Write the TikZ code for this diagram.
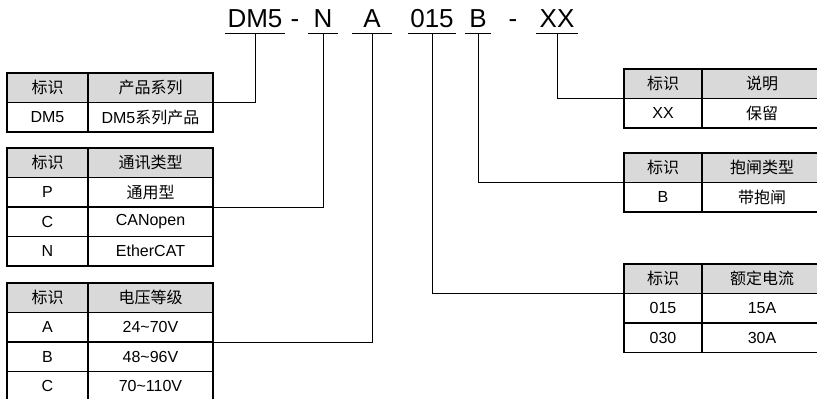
\documentclass[tikz,border=0pt]{standalone}
\usepackage{fontspec}
\setmainfont{Liberation Sans}
\newfontfamily\cjk{Noto Sans CJK SC}
\usetikzlibrary{positioning}
\definecolor{headgray}{RGB}{217,217,217}

\begin{document}
\begin{tikzpicture}[x=1pt, y=-1pt,
        codepart/.style={font=\fontsize{26}{26}\selectfont, anchor=base, inner xsep=0pt, inner ysep=0pt, text depth=6pt},
        cell/.style={draw, line width=1.3pt, outer sep=0pt, inner sep=0pt, minimum height=29.5pt, font=\fontsize{16}{16}\selectfont, align=center},
        keycell/.style={cell, minimum width=81pt},
        desccell/.style={cell, minimum width=125pt},
        rkeycell/.style={cell, minimum width=78pt},
        rdesccell/.style={cell, minimum width=120pt},
        head/.style={fill=headgray},
        link/.style={line width=1pt}
    ]
        \useasboundingbox (0,0) rectangle (817,399);
        \clip (0,0) rectangle (817,399);

        % model code
        \node[codepart, minimum width=59pt] (pdm) at (255,27) {DM5};
        \node[codepart] (pdash1) at (295,27) {-};
        \node[codepart, minimum width=29pt] (pn) at (323,27) {N};
        \node[codepart, minimum width=39pt] (pa) at (372,27) {A};
        \node[codepart, minimum width=47pt] (pcur) at (432,27) {015};
        \node[codepart, minimum width=25pt] (pb) at (478,27) {B};
        \node[codepart] (pdash2) at (513,27) {-};
        \node[codepart, minimum width=42pt] (px) at (557,27) {XX};
        \foreach \p in {pdm,pn,pa,pcur,pb,px}
            \draw[line width=1.3pt] (\p.south west) -- (\p.south east);

        % series
        \node[keycell, head, anchor=north west] (t1k0) at (7,73) {\cjk 标识};
        \node[desccell, head, right=0pt of t1k0] (t1d0) {\cjk 产品系列};
        \node[keycell, below=0pt of t1k0] (t1k1) {DM5};
        \node[desccell, below=0pt of t1d0] (t1d1) {DM5{\cjk 系列产品}};

        % bus type
        \node[keycell, head, anchor=north west] (t2k0) at (7,148) {\cjk 标识};
        \node[desccell, head, right=0pt of t2k0] (t2d0) {\cjk 通讯类型};
        \node[keycell, below=0pt of t2k0] (t2k1) {P};
        \node[desccell, below=0pt of t2d0] (t2d1) {\cjk 通用型};
        \node[keycell, below=0pt of t2k1] (t2k2) {C};
        \node[desccell, below=0pt of t2d1] (t2d2) {CANopen};
        \node[keycell, below=0pt of t2k2] (t2k3) {N};
        \node[desccell, below=0pt of t2d2] (t2d3) {EtherCAT};

        % voltage
        \node[keycell, head, anchor=north west] (t3k0) at (7,283) {\cjk 标识};
        \node[desccell, head, right=0pt of t3k0] (t3d0) {\cjk 电压等级};
        \node[keycell, below=0pt of t3k0] (t3k1) {A};
        \node[desccell, below=0pt of t3d0] (t3d1) {24\textasciitilde70V};
        \node[keycell, below=0pt of t3k1] (t3k2) {B};
        \node[desccell, below=0pt of t3d1] (t3d2) {48\textasciitilde96V};
        \node[keycell, below=0pt of t3k2] (t3k3) {C};
        \node[desccell, below=0pt of t3d2] (t3d3) {70\textasciitilde110V};

        % reserved
        \node[rkeycell, head, anchor=north west] (t4k0) at (624,69) {\cjk 标识};
        \node[rdesccell, head, right=0pt of t4k0] (t4d0) {\cjk 说明};
        \node[rkeycell, below=0pt of t4k0] (t4k1) {XX};
        \node[rdesccell, below=0pt of t4d0] (t4d1) {\cjk 保留};

        % brake
        \node[rkeycell, head, anchor=north west] (t5k0) at (624,153) {\cjk 标识};
        \node[rdesccell, head, right=0pt of t5k0] (t5d0) {\cjk 抱闸类型};
        \node[rkeycell, below=0pt of t5k0] (t5k1) {B};
        \node[rdesccell, below=0pt of t5d0] (t5d1) {\cjk 带抱闸};

        % rated current
        \node[rkeycell, head, anchor=north west] (t6k0) at (624,264) {\cjk 标识};
        \node[rdesccell, head, right=0pt of t6k0] (t6d0) {\cjk 额定电流};
        \node[rkeycell, below=0pt of t6k0] (t6k1) {015};
        \node[rdesccell, below=0pt of t6d0] (t6d1) {15A};
        \node[rkeycell, below=0pt of t6k1] (t6k2) {030};
        \node[rdesccell, below=0pt of t6d1] (t6d2) {30A};

        \draw[link] (pdm.south) |- (t1d0.south east);
        \draw[link] (pn.south) |- (t2d1.south east);
        \draw[link] (pa.south) |- (t3d1.south east);
        \draw[link] (pcur.south) |- (t6k0.south west);
        \draw[link] (pb.south) |- (t5k0.south west);
        \draw[link] (px.south) |- (t4k0.south west);
    \end{tikzpicture}
\end{document}
